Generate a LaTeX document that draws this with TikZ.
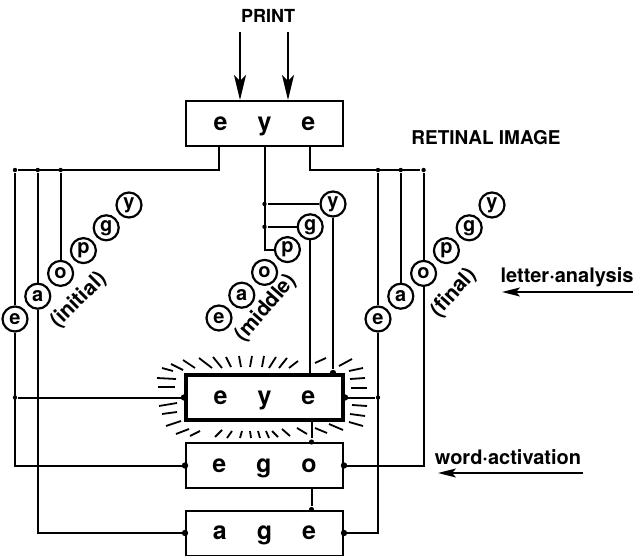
\documentclass[tikz,border=0pt]{standalone}
\usepackage{fontspec}
\setmainfont{TeX Gyre Heros}
\usetikzlibrary{arrows.meta}

\newcommand{\wordletters}[3]{#1\hspace{15pt}#2\hspace{15pt}#3}

\begin{document}
\begin{tikzpicture}[x=0.5pt,y=-0.5pt,line width=1pt,
    wordbox/.style={draw,rectangle,minimum width=78.5pt,minimum height=22.5pt,inner sep=0pt,
      text height=6.6pt,text depth=0pt,font=\bfseries\fontsize{12.5}{14}\selectfont},
    letter/.style={draw,circle,line width=1.1pt,minimum size=12.5pt,inner sep=0pt,fill=white,
      font=\bfseries\fontsize{10}{11}\selectfont},
    poslabel/.style={font=\bfseries\fontsize{10.5}{12}\selectfont,inner sep=0pt},
    sidelabel/.style={font=\bfseries\fontsize{10}{12}\selectfont,inner sep=0pt},
    junc/.style={circle,fill,inner sep=0pt,minimum size=2.2pt},
    port/.style={circle,fill,inner sep=0pt,minimum size=3.2pt},
    glow/.style={line width=0.9pt}]
  \useasboundingbox (0,0) rectangle (633,556);

  % Print and retinal image
  \node (print) at (268,16) [font=\bfseries\fontsize{9}{10}\selectfont] {PRINT};
  \node[wordbox] (retina) at (264.5,123.5) {\wordletters{e}{y}{e}};
  \node (retinal) at (486,138) [font=\bfseries\fontsize{9.5}{11}\selectfont] {RETINAL IMAGE};
  \coordinate (pin1) at (240,32);
  \coordinate (pin2) at (288,32);
  \draw[-{Stealth[length=12.5pt,width=6pt,inset=3pt]}] (pin1) -- (pin1 |- retina.north);
  \draw[-{Stealth[length=12.5pt,width=6pt,inset=3pt]}] (pin2) -- (pin2 |- retina.north);

  % Word units
  \node[wordbox,line width=2pt] (eye) at (264.5,397.5) {\wordletters{e}{y}{e}};
  \node[wordbox] (ego) at (264.5,465.5) {\wordletters{e}{g}{o}};
  \node[wordbox] (age) at (264.5,533) {\wordletters{a}{g}{e}};

  % Glow round the active word
  \foreach \xa/\ya/\xb/\yb in {162/368/173/371, 157/378/176/379, 158/387/175/387,
      159/406/177/403, 162/414/177/412, 166/426/181/421,
      171/364/183/370, 183/360/195/368, 199/358/212/368, 213/357/222/368, 226/357/231/367,
      239/356/241/367, 252/356/250/367, 264/356/262/367, 276/357/269/368, 287/358/279/368,
      298/361/289/368, 326/358/315/363, 352/359/339/366,
      349/371/363/368, 350/379/365/378, 351/388/367/388, 352/405/367/406, 350/414/365/416,
      349/422/363/426,
      176/434/189/429, 190/436/200/431, 215/437/222/430, 227/438/232/431, 240/438/242/431,
      251/438/250/431, 260/438/258/431, 269/438/266/431, 278/437/272/431, 290/436/282/429,
      307/434/297/428, 327/433/315/428, 343/430/329/424}
    \draw[glow] (\xa,\ya) -- (\xb,\yb);

  % Letter units
  \foreach \l [count=\i from 0] in {e,a,o,p,g,y} {
    \node[letter] (ini-\l) at ({15+22.8*\i},{319-22.8*\i}) {\l};
    \node[letter] (mid-\l) at ({219+22.8*\i},{318-22.8*\i}) {\l};
    \node[letter] (fin-\l) at ({378+22.8*\i},{319-22.8*\i}) {\l};
  }
  \node[poslabel,rotate=45] (ini-lab) at (79,300) {(initial)};
  \node[poslabel,rotate=49] (mid-lab) at (266,308) {(middle)};
  \node[poslabel,rotate=48] (fin-lab) at (454,293) {(final)};

  % Feature buses from the retina
  \coordinate (bus) at (0,170);
  \node[junc] (jIe) at (ini-e |- bus) {};
  \node[junc] (jIa) at (ini-a |- bus) {};
  \node[junc] (jIo) at (ini-o |- bus) {};
  \node[junc] (jFe) at (fin-e |- bus) {};
  \node[junc] (jFa) at (fin-a |- bus) {};
  \node[junc] (jFo) at (fin-o |- bus) {};
  \draw ([xshift=-22.75pt]retina.south) |- (jIe);
  \draw ([xshift=22.75pt]retina.south) |- (jFo);
  \draw (retina.south) |- (mid-p);
  \node[junc] (jMy) at (retina.south |- mid-y) {};
  \node[junc] (jMg) at (retina.south |- mid-g) {};
  \draw (jMy) -- (mid-y);
  \draw (jMg) -- (mid-g);

  % Initial letters to words
  \draw (jIe) -- (ini-e);
  \draw (jIa) -- (ini-a);
  \draw (jIo) -- (ini-o);
  \draw (ini-e) |- (ego.west);
  \draw (ini-a) |- (age.west);
  \node[junc] (jIeye) at (ini-e |- eye.west) {};
  \draw (jIeye) -- (eye.west);

  % Middle letters to words
  \draw (mid-g) -- (mid-g |- eye.north);
  \node[port] (jMeye) at (mid-y |- eye.north) {};
  \draw (mid-y) -- (jMeye);

  % Final letters to words
  \draw (jFe) -- (fin-e);
  \draw (jFa) -- (fin-a);
  \draw (jFo) -- (fin-o);
  \draw (fin-e) |- (age.east);
  \draw (fin-o) |- (ego.east);
  \node[junc] (jFeye) at (fin-e |- eye.east) {};
  \draw (eye.east) -- (jFeye);

  % Word to word
  \node[port,minimum size=2.6pt] (jEgo) at ([xshift=23.5pt]ego.north) {};
  \node[port,minimum size=2.6pt] (jAge) at ([xshift=23.5pt]age.north) {};
  \draw (jEgo |- eye.south) -- (jEgo);
  \draw (jAge |- ego.south) -- (jAge);

  % Ports on the word units
  \foreach \w in {eye,ego,age} {
    \node[port] (\w-in) at (\w.west) {};
    \node[port] (\w-out) at (\w.east) {};
  }

  % Levels
  \node[sidelabel] (letteran) at (567,277) {letter·analysis};
  \node[sidelabel] (wordact) at (508,457) {word·activation};
  \coordinate (la-from) at (633,292);
  \coordinate (la-to) at (502,292);
  \coordinate (wa-from) at (583,473);
  \coordinate (wa-to) at (438,473);
  \draw[-{Stealth[length=9pt,width=4.5pt,inset=2pt]}] (la-from) -- (la-to);
  \draw[-{Stealth[length=9pt,width=4.5pt,inset=2pt]}] (wa-from) -- (wa-to);
\end{tikzpicture}
\end{document}
